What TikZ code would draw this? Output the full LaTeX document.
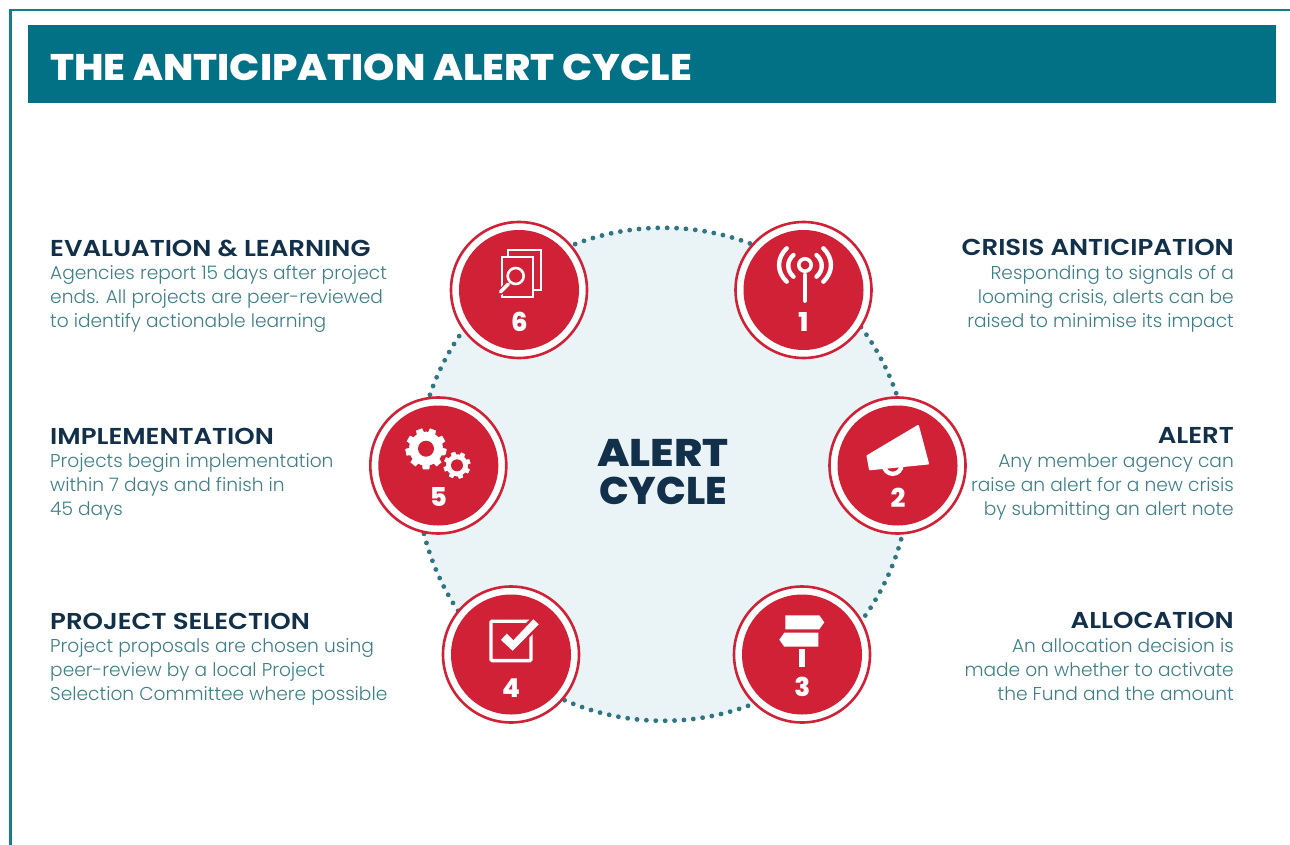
\documentclass[tikz,border=0pt]{standalone}
\usepackage{fontspec}
\setmainfont{Poppins}
\newfontfamily\titlef[FakeStretch=1.075]{Poppins ExtraBold}
\newfontfamily\centrea[FakeStretch=1.115]{Poppins ExtraBold}
\newfontfamily\centreb[FakeStretch=1.02]{Poppins ExtraBold}
\newfontfamily\numf{Poppins ExtraBold}
\newfontfamily\headf[FakeStretch=1.13]{Poppins SemiBold}
\newfontfamily\bodyf{Poppins Light}
\definecolor{cred}{HTML}{D12136}
\definecolor{cbanner}{HTML}{027085}
\definecolor{cframe}{HTML}{1A7A8C}
\definecolor{cbg}{HTML}{EAF3F5}
\definecolor{cdots}{HTML}{2F7583}
\definecolor{cnavy}{HTML}{12304A}
\definecolor{cbody}{HTML}{3F7F87}
\tikzset{
  ringnode/.style={circle,draw=cred,line width=2.6pt,fill=white,minimum size=136pt,inner sep=0pt},
  discnode/.style={circle,fill=cred,minimum size=120pt,inner sep=0pt},
  numnode/.style={text=white,font=\numf\fontsize{26}{26}\selectfont,inner sep=0pt,anchor=center},
  headl/.style={text=cnavy,font=\headf\fontsize{23}{24}\selectfont,inner sep=0pt,anchor=base west},
  headr/.style={text=cnavy,font=\headf\fontsize{23}{24}\selectfont,inner sep=0pt,anchor=base east},
  bodyl/.style={text=cbody,font=\bodyf\fontsize{18.6}{24}\selectfont,inner sep=0pt,anchor=north west,align=left},
  bodyr/.style={text=cbody,font=\bodyf\fontsize{18.6}{24}\selectfont,inner sep=0pt,anchor=north east,align=right},
  iconline/.style={draw=white,line width=4.4pt,line cap=round},
}
\newcommand{\gearshape}[7]{% cx cy rout rroot rhole teeth rot
  \pgfmathsetmacro{\gstep}{360/#6}
  \fill[white,draw=cred,line width=2pt,shift={(#1,#2)}] (#7:#4)
    \foreach \gi [evaluate=\gi as \ga using #7+\gi*\gstep-\gstep] in {1,...,#6}{
      -- (\ga+0.12*\gstep:#4)
      -- (\ga+0.22*\gstep:#3)
      -- (\ga+0.78*\gstep:#3)
      -- (\ga+0.88*\gstep:#4)
      -- (\ga+\gstep:#4)
    } -- cycle;
  \fill[cred] (#1,#2) circle (#5);
}
\begin{document}
\begin{tikzpicture}[x=1pt,y=-1pt]
\useasboundingbox (0,0) rectangle (1290,845);
\fill[white] (0,0) rectangle (1290,845);
\draw[cframe,line width=2.4pt] (10.5,845) -- (10.5,10) -- (1290,10);
\node[fill=cbanner,minimum width=1248pt,minimum height=78pt,inner sep=0pt,anchor=north west] (banner) at (28,25) {};
\node[text=white,font=\titlef\fontsize{37}{37}\selectfont,inner sep=0pt,anchor=base west] (title) at (50,80.5) {THE ANTICIPATION ALERT CYCLE};
% cycle
\fill[cbg] (663.3,474.3) circle (246.5);
\draw[cdots,line width=4.8pt,line cap=round,dash pattern=on 0pt off 9.4pt] (663.3,474.3) circle (246.5);
\node[text=cnavy,font=\fontsize{38.5}{38}\selectfont,align=center,inner sep=0pt] (centre) at (663,472.5) {{\centrea ALERT}\\{\centreb CYCLE}};
% rings
\node[ringnode] (r1) at (803.5,290) {};
\node[ringnode] (r2) at (897.5,465.5) {};
\node[ringnode] (r3) at (802,654.5) {};
\node[ringnode] (r4) at (511,654.5) {};
\node[ringnode] (r5) at (438.3,465.5) {};
\node[ringnode] (r6) at (519,290) {};
\foreach \i in {1,...,6}{\node[discnode] (d\i) at (r\i) {};}
% numbers
\node[numnode] (n1) at (803.3,322) {1};
\node[numnode] (n2) at (898,497.3) {2};
\node[numnode] (n3) at (802.3,687.3) {3};
\node[numnode] (n4) at (511,688.3) {4};
\node[numnode] (n5) at (438.3,497) {5};
\node[numnode] (n6) at (519.3,321.7) {6};
% icon 1: antenna
\draw[iconline] (805,275) -- (805,300.7);
\draw[white,line width=3.6pt] (805,265) circle (6.2);
\draw[iconline] (793.5,255) .. controls (786.5,261) and (786.5,270.5) .. (793.5,276.7);
\draw[iconline] (786.7,248.3) .. controls (776.5,258) and (776.5,272) .. (786.7,281.7);
\draw[iconline] (816.5,255) .. controls (823.5,261) and (823.5,270.5) .. (816.5,276.7);
\draw[iconline] (823.3,248.3) .. controls (833.5,258) and (833.5,272) .. (823.3,281.7);
% icon 2: megaphone
\draw[white,line width=4.3pt] (892.7,465) circle (8.85);
\fill[white,draw=white,line width=2pt,line join=round] (867.5,456) -- (918,426) -- (928,463.5) -- (870,469.3) -- cycle;
% icon 3: signpost
\fill[white] (785.3,615.3) -- (819.3,615.3) -- (824.3,622.3) -- (819.3,629.3) -- (785.3,629.3) -- cycle;
\fill[white] (779.3,639.7) -- (784.3,632.7) -- (818.3,632.7) -- (818.3,646.7) -- (784.3,646.7) -- cycle;
\fill[white] (798.7,649.3) rectangle (805.3,666.7);
% icon 4: check box
\draw[white,line width=3.3pt,rounded corners=1pt] (491,621.3) rectangle (531,660.6);
\fill[white,draw=cred,line width=2.4pt] (499,640) -- (506.7,631.7) -- (513.3,638.3) -- (533.3,617.3) -- (540.7,624.3) -- (512.7,652.7) -- cycle;
% icon 5: gears
\gearshape{426}{448.7}{22}{18}{8}{9}{-10}
\gearshape{457}{465.3}{15}{12}{6}{8}{5}
% icon 6: documents
\draw[white,line width=2pt] (508.3,250.3) rectangle (541,290);
\fill[cred,draw=white,line width=2pt] (501.7,257) rectangle (532.7,297);
\draw[cred,line width=6pt,line cap=round] (508.3,284) -- (500,292.3);
\draw[white,line width=3.5pt,line cap=round] (508.3,284) -- (500.5,291.8);
\fill[cred,draw=white,line width=2.6pt] (515.7,276) circle (8);
% left texts
\node[headl] (h6) at (50,256) {EVALUATION \& LEARNING};
\node[bodyl] (b6) at (50,265.5) {Agencies report 15 days after project\\ends. All projects are peer-reviewed\\to identify actionable learning};
\node[headl] (h5) at (50,444) {IMPLEMENTATION};
\node[bodyl] (b5) at (50,453.5) {Projects begin implementation\\within 7 days and finish in\\45 days};
\node[headl] (h4) at (50,629) {PROJECT SELECTION};
\node[bodyl] (b4) at (50,638.5) {Project proposals are chosen using\\peer-review by a local Project\\Selection Committee where possible};
% right texts
\node[headr] (h1) at (1234,255) {CRISIS ANTICIPATION};
\node[bodyr] (b1) at (1234,265.5) {Responding to signals of a\\looming crisis, alerts can be\\raised to minimise its impact};
\node[headr] (h2) at (1234,443) {ALERT};
\node[bodyr] (b2) at (1234,453.5) {Any member agency can\\raise an alert for a new crisis\\by submitting an alert note};
\node[headr] (h3) at (1234,628) {ALLOCATION};
\node[bodyr] (b3) at (1234,638.5) {An allocation decision is\\made on whether to activate\\the Fund and the amount};
\end{tikzpicture}
\end{document}
